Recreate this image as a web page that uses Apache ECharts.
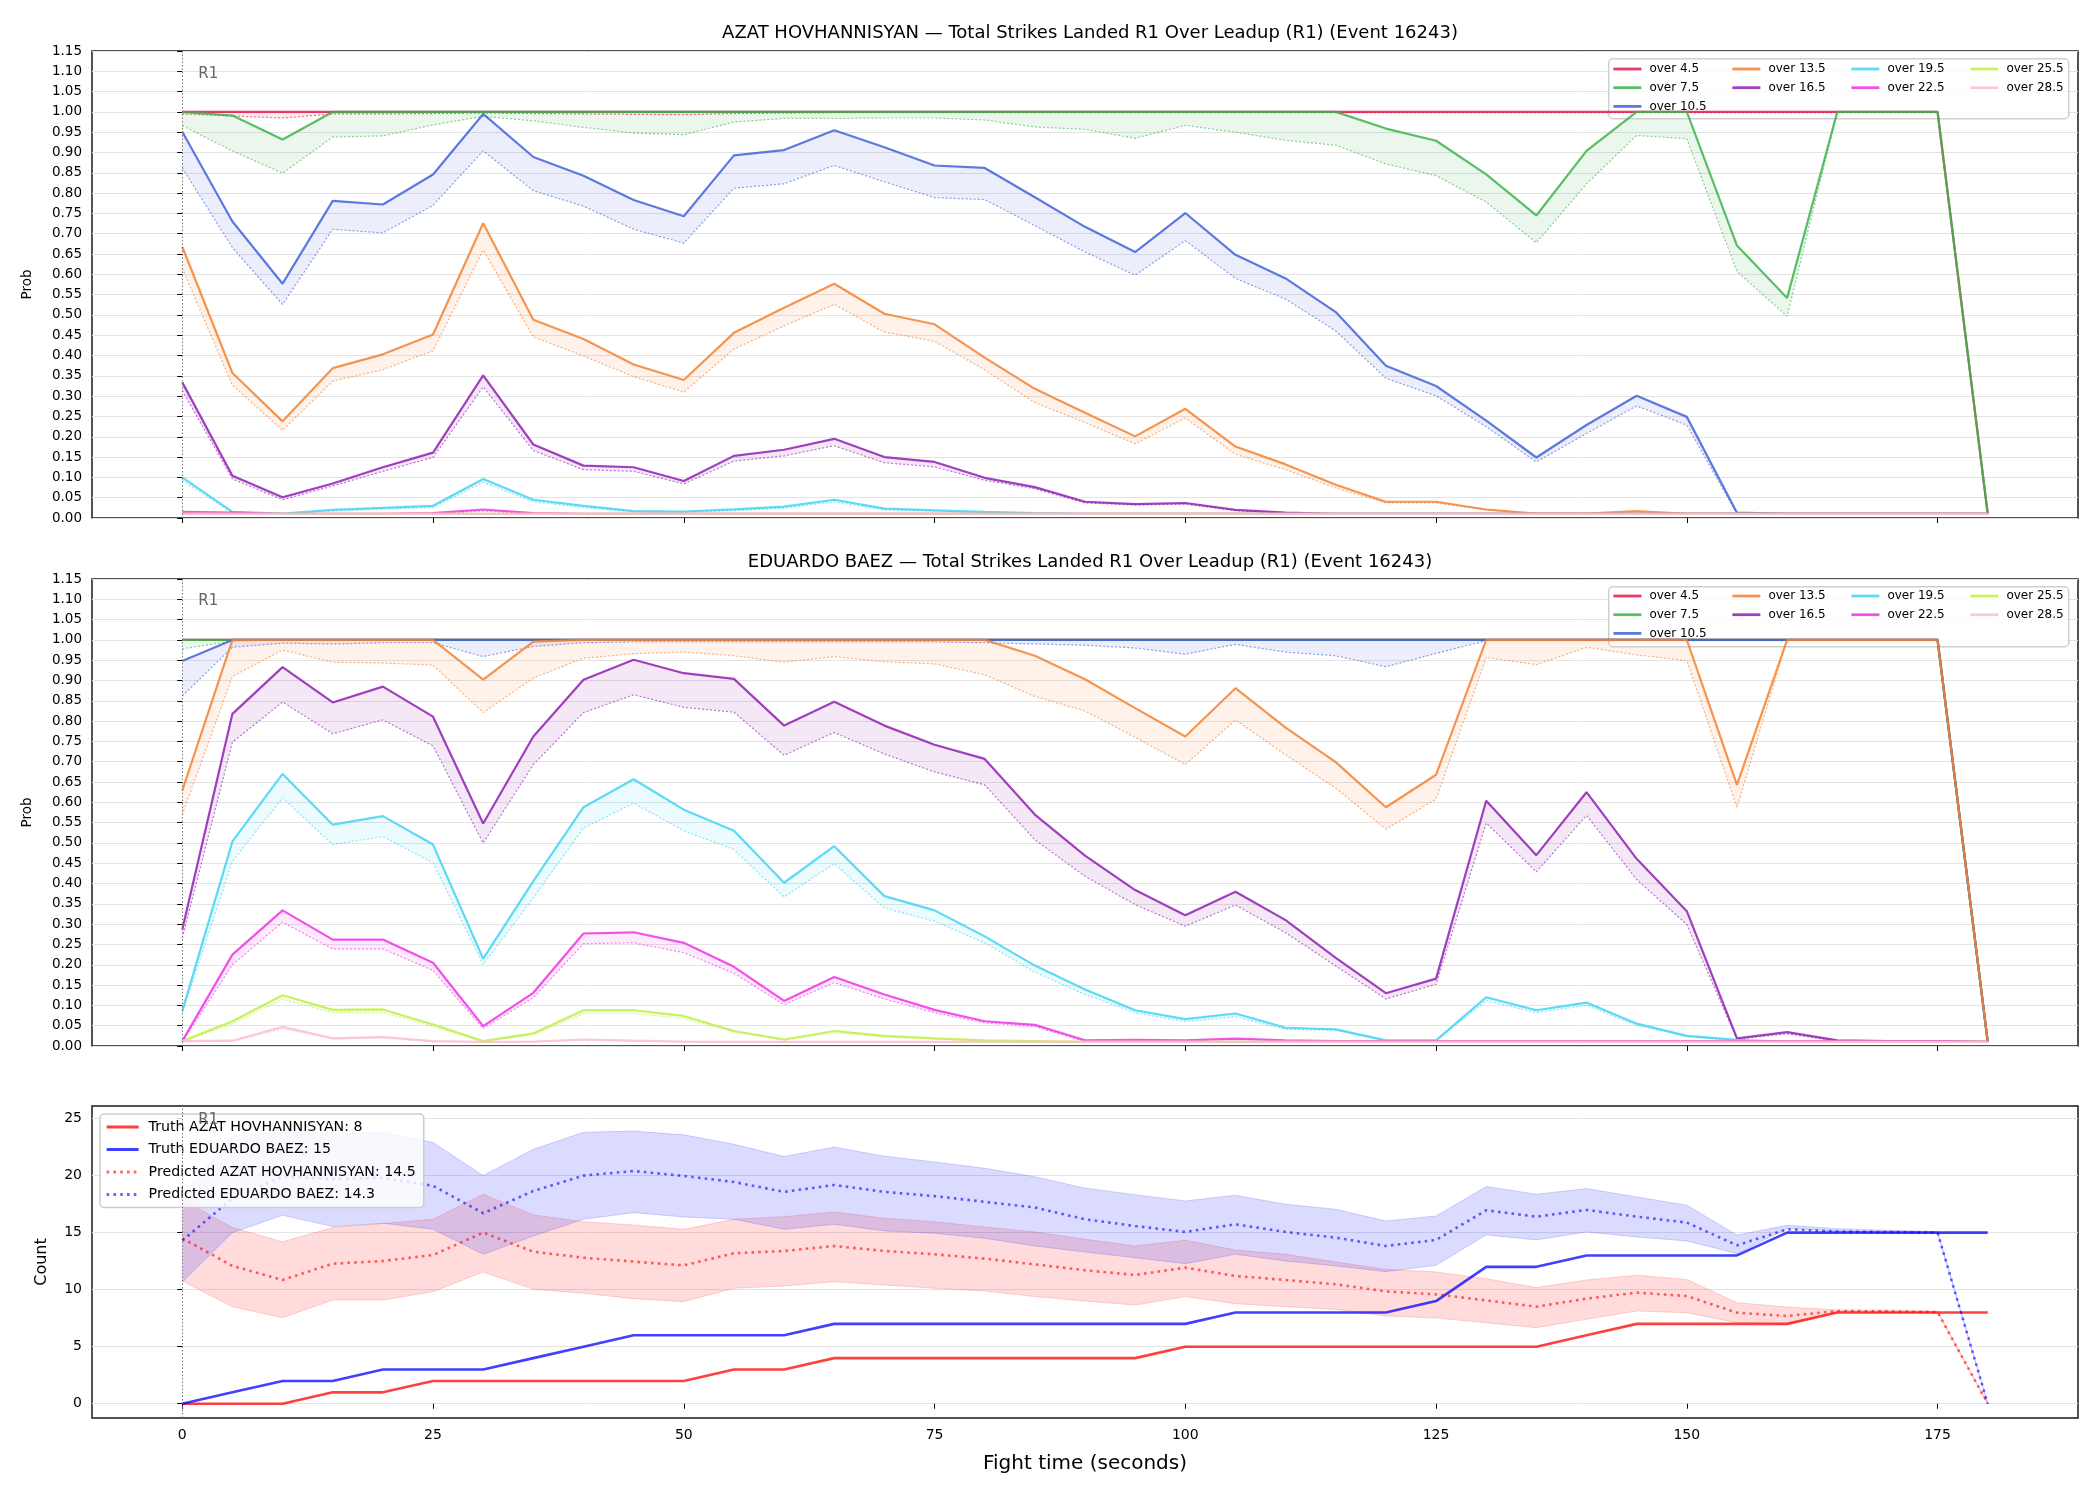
<!DOCTYPE html>
<html>
<head>
<meta charset="utf-8">
<script src="https://cdn.jsdelivr.net/npm/echarts@6/dist/echarts.min.js"></script>
<style>
html, body { margin: 0; padding: 0; background: #fff; }
#chart { width: 2100px; height: 1500px; }
</style>
</head>
<body>
<div id="chart"></div>
<script>
var FONT = "DejaVu Sans";

// fight time (seconds)
var T = [0, 5, 10, 15, 20, 25, 30, 35, 40, 45, 50, 55, 60, 65, 70, 75, 80, 85, 90, 95,
	100, 105, 110, 115, 120, 125, 130, 135, 140, 145, 150, 155, 160, 165, 170, 175, 180];

var LABELS = ["over 4.5", "over 7.5", "over 10.5", "over 13.5", "over 16.5", "over 19.5", "over 22.5", "over 25.5", "over 28.5"];
var COLORS = ["#e6194b", "#3cb44b", "#4363d8", "#f58231", "#911eb4", "#42d4f4", "#f032e6", "#bfef45", "#fabed4"];

// AZAT HOVHANNISYAN: solid line / dotted line per threshold
var A45 = [1, 1, 1, 1, 1, 1, 1, 1, 1, 1,
	1, 1, 1, 1, 1, 1, 1, 1, 1, 1,
	1, 1, 1, 1, 1, 1, 1, 1, 1, 1,
	1, 1, 1, 1, 1, 1, 0.01];
var A45d = [0.995, 0.99, 0.985, 0.995, 0.995, 0.996, 0.997, 0.996, 0.995, 0.994,
	0.993, 0.996, 0.997, 0.998, 0.998, 0.998, 0.998, 0.998, 0.998, 0.998,
	0.998, 0.998, 0.998, 0.998, 0.998, 0.998, 0.998, 0.998, 0.998, 0.998,
	0.998, 0.998, 0.998, 0.998, 0.998, 0.998, 0.01];
var A75 = [1, 0.991, 0.932, 1, 1, 1, 1, 1, 1, 1,
	1, 1, 1, 1, 1, 1, 1, 1, 1, 1,
	1, 1, 1, 1, 0.959, 0.929, 0.846, 0.745, 0.904, 1,
	1, 0.671, 0.542, 1, 1, 1, 0.01];
var A75d = [0.966, 0.904, 0.849, 0.938, 0.941, 0.968, 0.989, 0.978, 0.962, 0.948,
	0.944, 0.975, 0.984, 0.984, 0.985, 0.985, 0.98, 0.963, 0.957, 0.935,
	0.967, 0.95, 0.93, 0.918, 0.872, 0.843, 0.778, 0.678, 0.823, 0.942,
	0.934, 0.607, 0.497, 1, 1, 1, 0.01];
var A105 = [0.951, 0.73, 0.577, 0.781, 0.772, 0.846, 0.995, 0.889, 0.843, 0.783,
	0.743, 0.893, 0.906, 0.955, 0.913, 0.868, 0.862, 0.79, 0.717, 0.655,
	0.751, 0.648, 0.59, 0.507, 0.375, 0.325, 0.24, 0.149, 0.229, 0.301,
	0.249, 0.013, 0.01, 0.01, 0.01, 0.01, 0.01];
var A105d = [0.862, 0.666, 0.526, 0.711, 0.702, 0.77, 0.904, 0.806, 0.768, 0.711,
	0.677, 0.812, 0.823, 0.868, 0.828, 0.789, 0.784, 0.72, 0.655, 0.598,
	0.683, 0.59, 0.539, 0.461, 0.344, 0.301, 0.225, 0.138, 0.208, 0.276,
	0.229, 0.01, 0.01, 0.01, 0.01, 0.01, 0.01];
var A135 = [0.668, 0.357, 0.238, 0.369, 0.403, 0.452, 0.726, 0.488, 0.441, 0.378,
	0.34, 0.456, 0.518, 0.577, 0.503, 0.477, 0.395, 0.318, 0.259, 0.201,
	0.269, 0.176, 0.132, 0.082, 0.04, 0.04, 0.021, 0.011, 0.011, 0.017,
	0.01, 0.01, 0.01, 0.01, 0.01, 0.01, 0.01];
var A135d = [0.615, 0.327, 0.216, 0.337, 0.365, 0.412, 0.66, 0.446, 0.399, 0.348,
	0.31, 0.416, 0.473, 0.526, 0.458, 0.435, 0.365, 0.284, 0.235, 0.183,
	0.246, 0.157, 0.119, 0.074, 0.037, 0.037, 0.02, 0.01, 0.01, 0.012,
	0.01, 0.01, 0.01, 0.01, 0.01, 0.01, 0.01];
var A165 = [0.334, 0.104, 0.051, 0.085, 0.125, 0.161, 0.351, 0.181, 0.129, 0.125,
	0.091, 0.153, 0.168, 0.195, 0.15, 0.138, 0.099, 0.076, 0.04, 0.034,
	0.037, 0.02, 0.013, 0.01, 0.01, 0.01, 0.01, 0.01, 0.01, 0.01,
	0.01, 0.01, 0.01, 0.01, 0.01, 0.01, 0.01];
var A165d = [0.314, 0.096, 0.045, 0.079, 0.115, 0.149, 0.323, 0.166, 0.119, 0.115,
	0.084, 0.14, 0.153, 0.178, 0.136, 0.126, 0.093, 0.072, 0.037, 0.032,
	0.034, 0.018, 0.012, 0.01, 0.01, 0.01, 0.01, 0.01, 0.01, 0.01,
	0.01, 0.01, 0.01, 0.01, 0.01, 0.01, 0.01];
var A195 = [0.1, 0.015, 0.011, 0.02, 0.025, 0.03, 0.096, 0.045, 0.03, 0.017,
	0.016, 0.021, 0.028, 0.045, 0.023, 0.019, 0.015, 0.012, 0.01, 0.01,
	0.01, 0.01, 0.01, 0.01, 0.01, 0.01, 0.01, 0.01, 0.01, 0.01,
	0.01, 0.01, 0.01, 0.01, 0.01, 0.01, 0.01];
var A195d = [0.093, 0.012, 0.01, 0.017, 0.022, 0.026, 0.088, 0.04, 0.026, 0.015,
	0.014, 0.018, 0.024, 0.04, 0.02, 0.017, 0.013, 0.01, 0.01, 0.01,
	0.01, 0.01, 0.01, 0.01, 0.01, 0.01, 0.01, 0.01, 0.01, 0.01,
	0.01, 0.01, 0.01, 0.01, 0.01, 0.01, 0.01];
var A225 = [0.015, 0.013, 0.01, 0.01, 0.01, 0.012, 0.021, 0.012, 0.01, 0.01,
	0.01, 0.01, 0.01, 0.01, 0.01, 0.01, 0.01, 0.01, 0.01, 0.01,
	0.01, 0.01, 0.01, 0.01, 0.01, 0.01, 0.01, 0.01, 0.01, 0.01,
	0.01, 0.01, 0.01, 0.01, 0.01, 0.01, 0.01];
var A225d = [0.012, 0.011, 0.01, 0.01, 0.01, 0.01, 0.017, 0.01, 0.01, 0.01,
	0.01, 0.01, 0.01, 0.01, 0.01, 0.01, 0.01, 0.01, 0.01, 0.01,
	0.01, 0.01, 0.01, 0.01, 0.01, 0.01, 0.01, 0.01, 0.01, 0.01,
	0.01, 0.01, 0.01, 0.01, 0.01, 0.01, 0.01];
var A255 = [0.01, 0.01, 0.01, 0.01, 0.01, 0.01, 0.01, 0.01, 0.01, 0.01,
	0.01, 0.01, 0.01, 0.01, 0.01, 0.01, 0.01, 0.01, 0.01, 0.01,
	0.01, 0.01, 0.01, 0.01, 0.01, 0.01, 0.01, 0.01, 0.01, 0.01,
	0.01, 0.01, 0.01, 0.01, 0.01, 0.01, 0.01];
var A255d = [0.01, 0.01, 0.01, 0.01, 0.01, 0.01, 0.01, 0.01, 0.01, 0.01,
	0.01, 0.01, 0.01, 0.01, 0.01, 0.01, 0.01, 0.01, 0.01, 0.01,
	0.01, 0.01, 0.01, 0.01, 0.01, 0.01, 0.01, 0.01, 0.01, 0.01,
	0.01, 0.01, 0.01, 0.01, 0.01, 0.01, 0.01];
var A285 = [0.01, 0.01, 0.01, 0.01, 0.01, 0.01, 0.01, 0.01, 0.01, 0.01,
	0.01, 0.01, 0.01, 0.01, 0.01, 0.01, 0.01, 0.01, 0.01, 0.01,
	0.01, 0.01, 0.01, 0.01, 0.01, 0.01, 0.01, 0.01, 0.01, 0.01,
	0.01, 0.01, 0.01, 0.01, 0.01, 0.01, 0.01];
var A285d = [0.01, 0.01, 0.01, 0.01, 0.01, 0.01, 0.01, 0.01, 0.01, 0.01,
	0.01, 0.01, 0.01, 0.01, 0.01, 0.01, 0.01, 0.01, 0.01, 0.01,
	0.01, 0.01, 0.01, 0.01, 0.01, 0.01, 0.01, 0.01, 0.01, 0.01,
	0.01, 0.01, 0.01, 0.01, 0.01, 0.01, 0.01];

// EDUARDO BAEZ: solid line / dotted line per threshold
var E45 = [1, 1, 1, 1, 1, 1, 1, 1, 1, 1,
	1, 1, 1, 1, 1, 1, 1, 1, 1, 1,
	1, 1, 1, 1, 1, 1, 1, 1, 1, 1,
	1, 1, 1, 1, 1, 1, 0.01];
var E45d = [0.999, 0.999, 0.999, 0.999, 0.999, 0.999, 0.999, 0.999, 0.999, 0.999,
	0.999, 0.999, 0.999, 0.999, 0.999, 0.999, 0.999, 0.999, 0.999, 0.999,
	0.999, 0.999, 0.999, 0.999, 0.999, 0.999, 0.999, 0.999, 0.999, 0.999,
	0.999, 0.999, 0.999, 0.999, 0.999, 0.999, 0.01];
var E75 = [1, 1, 1, 1, 1, 1, 1, 1, 1, 1,
	1, 1, 1, 1, 1, 1, 1, 1, 1, 1,
	1, 1, 1, 1, 1, 1, 1, 1, 1, 1,
	1, 1, 1, 1, 1, 1, 0.01];
var E75d = [0.978, 0.997, 1, 1, 1, 1, 1, 1, 1, 1,
	1, 1, 1, 1, 1, 1, 1, 1, 1, 1,
	1, 1, 1, 1, 1, 1, 1, 1, 1, 1,
	1, 1, 1, 1, 1, 1, 0.01];
var E105 = [0.948, 1, 1, 1, 1, 1, 1, 1, 1, 1,
	1, 1, 1, 1, 1, 1, 1, 1, 1, 1,
	1, 1, 1, 1, 1, 1, 1, 1, 1, 1,
	1, 1, 1, 1, 1, 1, 0.01];
var E105d = [0.862, 0.982, 0.992, 0.99, 0.993, 0.993, 0.959, 0.984, 0.993, 0.995,
	0.995, 0.995, 0.995, 0.995, 0.995, 0.995, 0.993, 0.99, 0.987, 0.98,
	0.965, 0.989, 0.97, 0.961, 0.934, 0.967, 0.998, 0.998, 0.998, 0.998,
	0.998, 0.998, 0.998, 0.998, 0.998, 0.998, 0.01];
var E135 = [0.629, 1, 1, 1, 1, 1, 0.902, 0.996, 1, 1,
	1, 1, 1, 1, 1, 1, 1, 0.961, 0.903, 0.832,
	0.762, 0.881, 0.784, 0.699, 0.588, 0.668, 1, 1, 1, 1,
	1, 0.643, 1, 1, 1, 1, 0.01];
var E135d = [0.57, 0.91, 0.975, 0.945, 0.943, 0.938, 0.821, 0.906, 0.955, 0.966,
	0.97, 0.961, 0.945, 0.959, 0.946, 0.941, 0.914, 0.861, 0.825, 0.76,
	0.693, 0.803, 0.717, 0.635, 0.534, 0.608, 0.957, 0.939, 0.982, 0.963,
	0.949, 0.588, 1, 1, 1, 1, 0.01];
var E165 = [0.287, 0.818, 0.933, 0.846, 0.885, 0.811, 0.548, 0.762, 0.902, 0.951,
	0.918, 0.904, 0.789, 0.848, 0.789, 0.742, 0.707, 0.57, 0.469, 0.384,
	0.322, 0.38, 0.31, 0.217, 0.13, 0.166, 0.604, 0.47, 0.625, 0.461,
	0.332, 0.019, 0.034, 0.014, 0.012, 0.012, 0.01];
var E165d = [0.266, 0.748, 0.847, 0.769, 0.803, 0.739, 0.5, 0.693, 0.821, 0.865,
	0.834, 0.822, 0.716, 0.772, 0.719, 0.675, 0.643, 0.508, 0.418, 0.348,
	0.295, 0.347, 0.279, 0.197, 0.116, 0.152, 0.549, 0.429, 0.568, 0.41,
	0.299, 0.017, 0.03, 0.012, 0.01, 0.01, 0.01];
var E195 = [0.086, 0.504, 0.67, 0.545, 0.566, 0.496, 0.215, 0.406, 0.588, 0.657,
	0.582, 0.53, 0.402, 0.492, 0.369, 0.334, 0.27, 0.198, 0.139, 0.088,
	0.066, 0.08, 0.045, 0.041, 0.014, 0.014, 0.12, 0.088, 0.107, 0.055,
	0.025, 0.015, 0.01, 0.01, 0.01, 0.01, 0.01];
var E195d = [0.082, 0.455, 0.611, 0.496, 0.516, 0.451, 0.201, 0.365, 0.537, 0.598,
	0.53, 0.484, 0.367, 0.449, 0.34, 0.307, 0.254, 0.182, 0.127, 0.082,
	0.06, 0.072, 0.041, 0.039, 0.012, 0.012, 0.112, 0.082, 0.1, 0.051,
	0.023, 0.012, 0.01, 0.01, 0.01, 0.01, 0.01];
var E225 = [0.012, 0.225, 0.334, 0.262, 0.262, 0.205, 0.049, 0.131, 0.277, 0.28,
	0.254, 0.195, 0.111, 0.17, 0.127, 0.089, 0.061, 0.052, 0.014, 0.015,
	0.014, 0.018, 0.014, 0.012, 0.012, 0.012, 0.012, 0.012, 0.012, 0.012,
	0.012, 0.012, 0.012, 0.012, 0.012, 0.012, 0.01];
var E225d = [0.01, 0.2, 0.305, 0.239, 0.239, 0.186, 0.043, 0.119, 0.252, 0.254,
	0.23, 0.179, 0.102, 0.156, 0.116, 0.082, 0.057, 0.048, 0.011, 0.011,
	0.011, 0.011, 0.011, 0.011, 0.011, 0.011, 0.011, 0.011, 0.011, 0.011,
	0.011, 0.011, 0.011, 0.011, 0.011, 0.011, 0.01];
var E255 = [0.012, 0.061, 0.125, 0.089, 0.09, 0.053, 0.012, 0.031, 0.088, 0.088,
	0.074, 0.037, 0.016, 0.037, 0.025, 0.019, 0.014, 0.012, 0.01, 0.01,
	0.01, 0.01, 0.01, 0.01, 0.01, 0.01, 0.01, 0.01, 0.01, 0.01,
	0.01, 0.01, 0.01, 0.01, 0.01, 0.01, 0.01];
var E255d = [0.01, 0.055, 0.115, 0.082, 0.082, 0.048, 0.01, 0.028, 0.08, 0.08,
	0.068, 0.034, 0.014, 0.033, 0.022, 0.017, 0.012, 0.01, 0.01, 0.01,
	0.01, 0.01, 0.01, 0.01, 0.01, 0.01, 0.01, 0.01, 0.01, 0.01,
	0.01, 0.01, 0.01, 0.01, 0.01, 0.01, 0.01];
var E285 = [0.012, 0.013, 0.047, 0.019, 0.022, 0.012, 0.01, 0.011, 0.016, 0.013,
	0.011, 0.01, 0.01, 0.01, 0.01, 0.01, 0.01, 0.01, 0.01, 0.01,
	0.01, 0.01, 0.01, 0.01, 0.01, 0.01, 0.01, 0.01, 0.01, 0.01,
	0.01, 0.01, 0.01, 0.01, 0.01, 0.01, 0.01];
var E285d = [0.01, 0.011, 0.042, 0.017, 0.02, 0.01, 0.01, 0.01, 0.014, 0.011,
	0.01, 0.01, 0.01, 0.01, 0.01, 0.01, 0.01, 0.01, 0.01, 0.01,
	0.01, 0.01, 0.01, 0.01, 0.01, 0.01, 0.01, 0.01, 0.01, 0.01,
	0.01, 0.01, 0.01, 0.01, 0.01, 0.01, 0.01];

// count panel
var truthA = [0, 0, 0, 1, 1, 2, 2, 2, 2, 2,
	2, 3, 3, 4, 4, 4, 4, 4, 4, 4,
	5, 5, 5, 5, 5, 5, 5, 5, 6, 7,
	7, 7, 7, 8, 8, 8, 8];
var truthE = [0, 1, 2, 2, 3, 3, 3, 4, 5, 6,
	6, 6, 6, 7, 7, 7, 7, 7, 7, 7,
	7, 8, 8, 8, 8, 9, 12, 12, 13, 13,
	13, 13, 15, 15, 15, 15, 15];
var predA = [14.5, 12.08, 10.85, 12.28, 12.51, 13.04, 15.0, 13.33, 12.8, 12.46,
	12.13, 13.19, 13.39, 13.83, 13.39, 13.1, 12.72, 12.22, 11.7, 11.29,
	11.93, 11.2, 10.85, 10.47, 9.85, 9.59, 9.06, 8.51, 9.21, 9.74,
	9.44, 7.98, 7.69, 8.13, 8.1, 8.04, 0];
var predE = [14.3, 18.0, 19.9, 19.7, 19.8, 19.1, 16.7, 18.65, 20.0, 20.4,
	19.97, 19.44, 18.57, 19.18, 18.57, 18.2, 17.7, 17.2, 16.17, 15.58,
	15.06, 15.73, 15.06, 14.56, 13.83, 14.36, 16.96, 16.4, 16.99, 16.4,
	15.88, 13.89, 15.29, 15.1, 15.05, 15.0, 0];
var bandAHi = [17.9, 15.44, 14.2, 15.44, 15.8, 16.17, 18.36, 16.55, 15.96, 15.67,
	15.29, 16.17, 16.4, 16.81, 16.26, 15.96, 15.5, 15.06, 14.42, 13.83,
	14.33, 13.48, 13.1, 12.43, 11.78, 11.55, 10.96, 10.18, 10.85, 11.26,
	10.9, 8.86, 8.48, 8.22, 8.2, 8.1, 0];
var bandALo = [10.76, 8.5, 7.54, 9.09, 9.09, 9.82, 11.55, 10.03, 9.68, 9.21,
	8.95, 10.12, 10.32, 10.7, 10.41, 10.12, 9.88, 9.39, 9.0, 8.65,
	9.39, 8.77, 8.5, 8.27, 7.69, 7.51, 7.1, 6.67, 7.4, 8.13,
	7.98, 7.1, 6.96, 8.04, 8.0, 8.0, 0];
var bandEHi = [18.2, 23.5, 23.8, 23.7, 23.8, 22.9, 20.0, 22.3, 23.8, 23.9,
	23.57, 22.75, 21.67, 22.5, 21.7, 21.2, 20.64, 19.9, 18.9, 18.33,
	17.78, 18.27, 17.49, 17.05, 16.02, 16.46, 19.04, 18.36, 18.86, 18.13,
	17.4, 14.8, 15.64, 15.35, 15.2, 15.1, 0];
var bandELo = [10.67, 15.0, 16.52, 15.53, 15.82, 15.29, 13.1, 14.7, 16.17, 16.75,
	16.37, 16.17, 15.29, 15.73, 15.15, 14.94, 14.5, 13.83, 13.3, 12.8,
	12.28, 13.1, 12.51, 12.08, 11.58, 12.13, 14.8, 14.36, 15.06, 14.62,
	14.27, 13.16, 15.35, 15.15, 15.0, 15.0, 0];

var X_TICKS = [0, 25, 50, 75, 100, 125, 150, 175];
var COUNT_TICKS = [0, 5, 10, 15, 20, 25];
var LEGEND_COLS = [["over 4.5", "over 7.5", "over 10.5"], ["over 13.5", "over 16.5"], ["over 19.5", "over 22.5"], ["over 25.5", "over 28.5"]];

var AZAT_SOLID = [A45, A75, A105, A135, A165, A195, A225, A255, A285];
var AZAT_DOT = [A45d, A75d, A105d, A135d, A165d, A195d, A225d, A255d, A285d];
var BAEZ_SOLID = [E45, E75, E105, E135, E165, E195, E225, E255, E285];
var BAEZ_DOT = [E45d, E75d, E105d, E135d, E165d, E195d, E225d, E255d, E285d];

function pairs(vals) {
	return vals.map(function (v, k) {
		return [T[k], v];
	});
}

// fill between lo and hi, drawn once as one polygon through the axis scales
function band(grid, lo, hi, fill, edge) {
	return {
		type: "custom",
		coordinateSystem: "cartesian2d",
		xAxisIndex: grid,
		yAxisIndex: grid,
		silent: true,
		data: T.map(function (t, k) {
			return [t, lo[k], hi[k]];
		}),
		encode: { x: 0, y: [1, 2] },
		renderItem: function (params, api) {
			if (params.dataIndex !== 0) {
				return null;
			}
			var top = [], bottom = [];
			for (var k = 0; k < T.length; k++) {
				top.push(api.coord([T[k], hi[k]]));
				bottom.push(api.coord([T[k], lo[k]]));
			}
			var children = [{
				type: "polygon",
				shape: { points: bottom.concat(top.slice().reverse()) },
				style: { fill: fill, stroke: "none" }
			}];
			if (edge) {
				children.push({ type: "polyline", shape: { points: top }, style: { fill: "none", stroke: edge, lineWidth: 1 } });
				children.push({ type: "polyline", shape: { points: bottom }, style: { fill: "none", stroke: edge, lineWidth: 1 } });
			}
			return { type: "group", children: children };
		}
	};
}

function hexA(hex, a) {
	var n = parseInt(hex.substring(1), 16);
	return "rgba(" + (n >> 16) + "," + ((n >> 8) & 255) + "," + (n & 255) + "," + a + ")";
}

function probSeries(grid, solid, dotted) {
	var out = [];
	solid.forEach(function (hi, i) {
		out.push(band(grid, dotted[i], hi, hexA(COLORS[i], 0.1), null));
		out.push({
			type: "line",
			name: LABELS[i],
			xAxisIndex: grid,
			yAxisIndex: grid,
			data: pairs(hi),
			symbol: "none",
			itemStyle: { color: COLORS[i] },
			lineStyle: { color: COLORS[i], width: 2.2, opacity: 0.85 }
		});
		out.push({
			type: "line",
			name: LABELS[i] + " (dotted)",
			xAxisIndex: grid,
			yAxisIndex: grid,
			data: pairs(dotted[i]),
			symbol: "none",
			itemStyle: { color: COLORS[i] },
			lineStyle: { color: COLORS[i], width: 1.2, type: [2, 2], opacity: 0.6 }
		});
	});
	return out;
}

function marker(grid, r1y) {
	return {
		type: "line",
		xAxisIndex: grid,
		yAxisIndex: grid,
		data: [],
		silent: true,
		markLine: {
			symbol: ["none", "none"],
			silent: true,
			label: { show: false },
			lineStyle: { color: "#777", width: 1, type: [1.5, 2] },
			data: [{ xAxis: 0 }]
		},
		markPoint: {
			symbol: "circle",
			symbolSize: 0,
			silent: true,
			label: { show: true, formatter: "R1", position: "right", distance: 4, color: "#666", fontSize: 15, fontFamily: FONT },
			data: [{ coord: [1.2, r1y] }]
		}
	};
}

var GRIDS = [
	{ left: 92, top: 51, width: 1986, height: 467 },
	{ left: 92, top: 579, width: 1986, height: 467 },
	{ left: 92, top: 1106, width: 1986, height: 312 }
];

function xAxisFor(i) {
	return {
		type: "value",
		gridIndex: i,
		min: -9,
		max: 189,
		axisLine: { show: false },
		axisTick: { show: true, customValues: X_TICKS, length: 5, lineStyle: { color: "#000" } },
		axisLabel: { show: i === 2, customValues: X_TICKS, fontSize: 14, color: "#000", margin: 10, fontFamily: FONT },
		splitLine: { show: false },
		name: i === 2 ? "Fight time (seconds)" : "",
		nameLocation: "middle",
		nameGap: 36,
		nameTextStyle: { fontSize: 20, color: "#000", fontFamily: FONT }
	};
}

function probYAxis(i) {
	return {
		type: "value",
		gridIndex: i,
		min: 0,
		max: 1.15,
		interval: 0.05,
		axisLine: { show: false },
		axisTick: { show: true, length: 5, lineStyle: { color: "#000" } },
		axisLabel: {
			fontSize: 13.5, color: "#000", margin: 10, fontFamily: FONT,
			formatter: function (v) { return v.toFixed(2); }
		},
		splitLine: { show: true, lineStyle: { color: "#e3e3e3", width: 1 } },
		name: "Prob",
		nameLocation: "middle",
		nameGap: 58,
		nameTextStyle: { fontSize: 13.5, color: "#000", fontFamily: FONT }
	};
}

function probLegends(rowTop) {
	var colX = [1612, 1731, 1850, 1969];
	return LEGEND_COLS.map(function (names, c) {
		return {
			data: names,
			orient: "vertical",
			left: colX[c],
			top: rowTop,
			padding: 0,
			itemWidth: 28,
			itemHeight: 12,
			itemGap: 6.7,
			selectedMode: false,
			itemStyle: { opacity: 0 },
			lineStyle: { width: 2.8 },
			textStyle: { fontSize: 12, color: "#000", fontFamily: FONT, padding: [0, 0, 0, 3] }
		};
	});
}

var nameTruthA = "Truth AZAT HOVHANNISYAN: " + truthA[truthA.length - 1];
var nameTruthE = "Truth EDUARDO BAEZ: " + truthE[truthE.length - 1];
var namePredA = "Predicted AZAT HOVHANNISYAN: " + predA[0].toFixed(1);
var namePredE = "Predicted EDUARDO BAEZ: " + predE[0].toFixed(1);

var series = [];
series.push(marker(0, 1.094));
series = series.concat(probSeries(0, AZAT_SOLID, AZAT_DOT));
series.push(marker(1, 1.096));
series = series.concat(probSeries(1, BAEZ_SOLID, BAEZ_DOT));
series.push(marker(2, 24.9));
series.push(band(2, bandALo, bandAHi, "rgba(255,0,0,0.14)", "rgba(255,0,0,0.16)"));
series.push(band(2, bandELo, bandEHi, "rgba(0,0,255,0.14)", "rgba(0,0,255,0.16)"));
series.push({
	type: "line", name: nameTruthA, xAxisIndex: 2, yAxisIndex: 2, data: pairs(truthA), symbol: "none",
	itemStyle: { color: "rgba(255,0,0,0.75)" }, lineStyle: { color: "rgba(255,0,0,0.75)", width: 2.6 }
});
series.push({
	type: "line", name: nameTruthE, xAxisIndex: 2, yAxisIndex: 2, data: pairs(truthE), symbol: "none",
	itemStyle: { color: "rgba(0,0,255,0.75)" }, lineStyle: { color: "rgba(0,0,255,0.75)", width: 2.6 }
});
series.push({
	type: "line", name: namePredA, xAxisIndex: 2, yAxisIndex: 2, data: pairs(predA), symbol: "none",
	itemStyle: { color: "rgba(255,0,0,0.6)" }, lineStyle: { color: "rgba(255,0,0,0.6)", width: 2.6, type: [2.6, 4.2] }
});
series.push({
	type: "line", name: namePredE, xAxisIndex: 2, yAxisIndex: 2, data: pairs(predE), symbol: "none",
	itemStyle: { color: "rgba(0,0,255,0.6)" }, lineStyle: { color: "rgba(0,0,255,0.6)", width: 2.6, type: [2.6, 4.2] }
});

var legends = probLegends(63).concat(probLegends(590));
legends.push({
	data: [nameTruthA, nameTruthE, namePredA, namePredE],
	orient: "vertical",
	left: 100,
	top: 1114,
	padding: [6, 8, 6, 5],
	itemWidth: 32,
	itemHeight: 14,
	itemGap: 8.5,
	selectedMode: false,
	itemStyle: { opacity: 0 },
	lineStyle: { width: 3.2 },
	backgroundColor: "rgba(255,255,255,0.8)",
	borderColor: "#cccccc",
	borderWidth: 1.5,
	borderRadius: 4,
	textStyle: { fontSize: 14.2, color: "#000", fontFamily: FONT, padding: [0, 0, 0, 5] }
});

function legendBox(top) {
	return {
		type: "rect",
		left: 1608,
		top: top,
		z: 3,
		shape: { width: 460, height: 60, r: 4 },
		style: { fill: "rgba(255,255,255,0.8)", stroke: "#d0d0d0", lineWidth: 1.5 }
	};
}

var chart = echarts.init(document.getElementById("chart"));
chart.setOption({
	animation: false,
	textStyle: { fontFamily: FONT },
	title: [
		{
			text: "AZAT HOVHANNISYAN \u2014 Total Strikes Landed R1 Over Leadup (R1) (Event 16243)",
			left: 1085, top: 19, textAlign: "center",
			textStyle: { fontSize: 18, fontWeight: "normal", color: "#000", fontFamily: FONT }
		},
		{
			text: "EDUARDO BAEZ \u2014 Total Strikes Landed R1 Over Leadup (R1) (Event 16243)",
			left: 1085, top: 548, textAlign: "center",
			textStyle: { fontSize: 18, fontWeight: "normal", color: "#000", fontFamily: FONT }
		}
	],
	grid: GRIDS.map(function (g) {
		return Object.assign({ show: true, borderColor: "#1a1a1a", borderWidth: 1.5, backgroundColor: "transparent" }, g);
	}),
	xAxis: [xAxisFor(0), xAxisFor(1), xAxisFor(2)],
	yAxis: [
		probYAxis(0),
		probYAxis(1),
		{
			type: "value",
			gridIndex: 2,
			min: -1.25,
			max: 26.1,
			splitNumber: 5,
			axisLine: { show: false },
			axisTick: { show: true, customValues: COUNT_TICKS, length: 5, lineStyle: { color: "#000" } },
			axisLabel: { customValues: COUNT_TICKS, fontSize: 14, color: "#000", margin: 10, fontFamily: FONT },
			splitLine: { show: true, lineStyle: { color: "#e3e3e3", width: 1 } },
			name: "Count",
			nameLocation: "middle",
			nameGap: 42,
			nameTextStyle: { fontSize: 16, color: "#000", fontFamily: FONT }
		}
	],
	legend: legends,
	graphic: [legendBox(58), legendBox(586)],
	series: series
});
</script>
</body>
</html>
